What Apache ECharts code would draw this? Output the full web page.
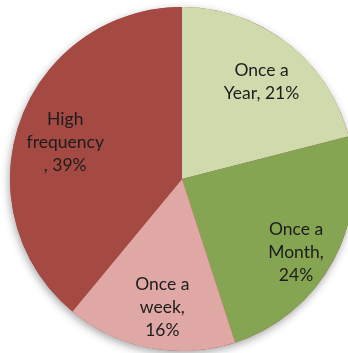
<!DOCTYPE html>
<html>
<head>
<meta charset="utf-8">
<script src="https://cdn.jsdelivr.net/npm/echarts@6/dist/echarts.min.js"></script>
<style>
  html, body { margin: 0; padding: 0; background: #ffffff; }
  #chart { width: 348px; height: 353px; }
</style>
</head>
<body>
<div id="chart"></div>
<script>
// Shopping frequency shares, clockwise from 12 o'clock
const categories = ['Once a\nYear', 'Once a\nMonth', 'Once a\nweek', 'High\nfrequency\n'];
const shares = [21, 24, 16, 39];
const colors = ['#D0DBAD', '#86A552', '#E0A8A4', '#A44A43'];
// label nudges away from the default inside position
const labelOffsets = [[25, -27], [36, 30], [-3, 41], [-33, -6]];
const labelSeparators = [', ', ',\n', ',\n', ', '];

const center = [182, 179];
const radius = 172;

const chart = echarts.init(document.getElementById('chart'), null, { renderer: 'canvas' });

const data = categories.map((name, i) => ({
  name: name,
  value: shares[i],
  itemStyle: { color: colors[i] },
  label: {
    offset: labelOffsets[i],
    formatter: name + labelSeparators[i] + shares[i] + '%'
  }
}));

chart.setOption({
  animation: false,
  series: [
    {
      // backing disc that carries the soft drop shadow
      type: 'pie',
      silent: true,
      z: 1,
      center: center,
      radius: [0, radius],
      label: { show: false },
      labelLine: { show: false },
      data: [{
        value: 1,
        itemStyle: {
          color: '#A44A43',
          shadowBlur: 8,
          shadowOffsetY: 3,
          shadowOffsetX: -1,
          shadowColor: 'rgba(0,0,0,0.35)'
        }
      }]
    },
    {
      type: 'pie',
      z: 2,
      center: center,
      radius: [0, radius],
      startAngle: 90,
      clockwise: true,
      silent: true,
      label: {
        show: true,
        position: 'inside',
        fontFamily: 'Lato',
        fontSize: 17.5,
        lineHeight: 23,
        color: '#1c1c1c',
        align: 'center'
      },
      labelLine: { show: false },
      data: data
    }
  ]
});
</script>
</body>
</html>
